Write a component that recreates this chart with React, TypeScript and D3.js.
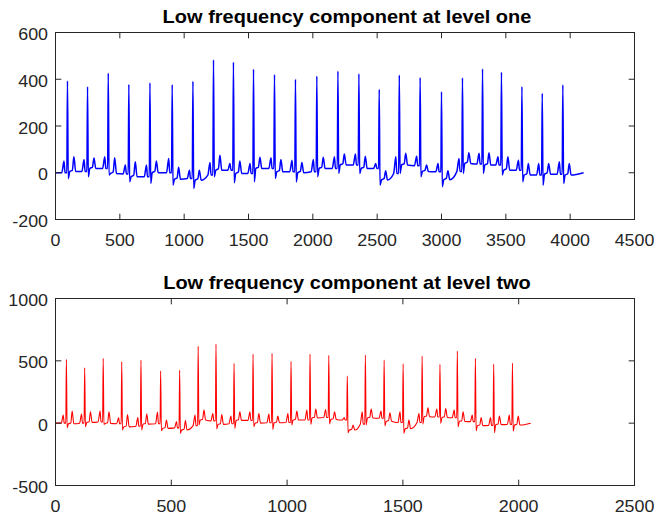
import React from 'react';
import * as d3 from 'd3';

// ---- level one (blue) : landmarks of each heartbeat ----
const rPosOne = [93, 249, 410, 570, 734, 907, 1068, 1228, 1383, 1539, 1702, 1865, 2031, 2195, 2358, 2516, 2672, 2834, 3000, 3163, 3319, 3466, 3625, 3783, 3943];
const rOne = [393, 368, 426, 378, 385, 377, 391, 483, 473, 443, 420, 400, 413, 435, 423, 357, 418, 407, 347, 406, 444, 430, 368, 340, 376];
const pOne = [50, 57, 68, 33, 33, 61, 11, 44, 40, 40, 64, 54, 57, 68, 80, 40, 68, 71, 40, 61, 83, 68, 54, 40, 47];
const sOne = [-25, -17, -10, -39, -46, -53, -67, -17, -43, -39, -24, -39, -17, -3, -3, -53, -3, -17, -60, -3, -3, -10, -39, -53, -46];
const tOne = [68, 63, 64, 47, 50, 23, 11, 75, 50, 66, 57, 44, 66, 80, 71, 9, 83, 33, 9, 86, 86, 68, 40, 40, 40];
// level of the flat stretch between beats: [start, end]
const restOne = [[0, 0], [5, 5], [18, 18], [-3, -5], [-17, -17], [0, 0], [-28, -25], [-32, -10], [11, 11], [-3, -3], [18, 18], [4, 4], [0, 4], [18, 18], [33, 33], [18, 18], [-31, -3], [33, 30], [5, 4], [-30, 5], [40, 37], [33, 33], [11, 11], [-10, -10], [-6, -6], [-10, 0]];
const lastOne = 4104;

// ---- level two (red) ----
const rPosTwo = [47, 126, 206, 286, 369, 454, 536, 616, 693, 771, 853, 935, 1017, 1099, 1180, 1260, 1338, 1419, 1501, 1583, 1660, 1735, 1813, 1892, 1973];
const rTwo = [512, 445, 520, 493, 506, 420, 426, 618, 634, 480, 554, 560, 496, 554, 544, 378, 546, 506, 476, 538, 471, 578, 520, 474, 482];
const pTwo = [65, 73, 97, 46, 46, 89, 12, 65, 78, 57, 92, 73, 78, 105, 110, 46, 92, 97, 92, 78, 113, 105, 65, 46, 65];
const sTwo = [-37, -29, -10, -55, -55, -61, -82, -15, -47, -42, -29, -50, -15, -10, -7, -77, -15, -23, -82, -7, -2, -29, -61, -77, -64];
const tTwo = [97, 92, 92, 70, 73, 25, 20, 105, 70, 92, 78, 57, 97, 113, 92, -15, 113, 84, 25, 124, 118, 92, 46, 57, 57];
const restTwo = [[0, 0], [-5, 0], [6, 10], [-2, -5], [-30, -25], [-8, -5], [-42, -38], [-55, -20], [25, 18], [-10, -5], [22, 22], [0, 3], [3, 5], [25, 25], [42, 45], [30, 25], [-55, -8], [42, 40], [15, 5], [-45, 5], [52, 50], [46, 44], [14, 12], [-20, -18], [-12, -10], [-15, 0]];
const lastTwo = 2052;

const xTicksOne = [0, 500, 1000, 1500, 2000, 2500, 3000, 3500, 4000, 4500];
const yTicksOne = [-200, 0, 200, 400, 600];
const xTicksTwo = [0, 500, 1000, 1500, 2000, 2500];
const yTicksTwo = [-500, 0, 500, 1000];

const INK = '#262626';
const SX = 1.13; // the picture is a little wider than tall

type Pt = [number, number];

// put the read landmarks in order as the vertices of the trace
function trace(rPos: number[], r: number[], p: number[], s: number[], t: number[], rest: number[][], last: number, w: number): Pt[] {
  const pts: Pt[] = [[0, rest[0][0]]];
  rPos.forEach((R, i) => {
    const pre = rest[i][1];
    const post = rest[i + 1][0];
    pts.push(
      [R - 44 * w, pre],
      [R - 27 * w, p[i]],
      [R - 19 * w, pre],
      [R - 5 * w, pre],
      [R, r[i]],
      [R + 6 * w, s[i]],
      [R + 18 * w, post],
      [R + 38 * w, post + 6],
      [R + 50 * w, t[i]],
      [R + 64 * w, post]
    );
  });
  pts.push([last, rest[rest.length - 1][1]]);
  return pts;
}

const L = 55.5, R = 634.5;

function Panel(props: { top: number; bottom: number; title: string; xMax: number; yDom: [number, number]; xTicks: number[]; yTicks: number[]; pts: Pt[]; color: string; lw: number }) {
  const { top, bottom, title, xMax, yDom, xTicks, yTicks, pts, color, lw } = props;
  const x = d3.scaleLinear().domain([0, xMax]).range([L, R]);
  const y = d3.scaleLinear().domain(yDom).range([bottom, top]);
  const line = d3.line<Pt>().x(d => x(d[0])).y(d => y(d[1])).curve(d3.curveMonotoneX);
  const tl = 5.8;
  return (
    <g>
      <path d={line(pts) || ''} fill="none" stroke={color} strokeWidth={lw} strokeLinejoin="round" />
      <rect x={L} y={top} width={R - L} height={bottom - top} fill="none" stroke={INK} strokeWidth={1} />
      {xTicks.map(v => (
        <g key={'x' + v}>
          <line x1={x(v)} x2={x(v)} y1={bottom} y2={bottom - tl} stroke={INK} />
          <line x1={x(v)} x2={x(v)} y1={top} y2={top + tl} stroke={INK} />
          <text transform={`translate(${x(v)},${bottom + 26.4}) scale(${SX},1)`} textAnchor="middle" fontSize={15.8} fill={INK}>{v}</text>
        </g>
      ))}
      {yTicks.map(v => (
        <g key={'y' + v}>
          <line x1={L} x2={L + tl} y1={y(v)} y2={y(v)} stroke={INK} />
          <line x1={R} x2={R - tl} y1={y(v)} y2={y(v)} stroke={INK} />
          <text transform={`translate(48,${y(v) + 7.6}) scale(${SX},1)`} textAnchor="end" fontSize={15.8} fill={INK}>{v}</text>
        </g>
      ))}
      <text transform={`translate(347,${top - 9.2}) scale(${SX},1)`} textAnchor="middle" fontSize={17.7} fontWeight="bold" fill="#000">{title}</text>
    </g>
  );
}

export default function App() {
  const ptsOne = trace(rPosOne, rOne, pOne, sOne, tOne, restOne, lastOne, 1);
  const ptsTwo = trace(rPosTwo, rTwo, pTwo, sTwo, tTwo, restTwo, lastTwo, 0.5);
  return (
    <svg width={654} height={516} style={{ position: 'absolute', left: 0, top: 0, background: '#fff' }} fontFamily="'Liberation Sans', Arial, sans-serif">
      <rect width={654} height={516} fill="#fff" />
      <Panel top={32.5} bottom={219.5} title="Low frequency component at level one" xMax={4500} yDom={[-200, 600]}
        xTicks={xTicksOne} yTicks={yTicksOne} pts={ptsOne} color="#0000ff" lw={1.5} />
      <Panel top={298.5} bottom={485.5} title="Low frequency component at level two" xMax={2500} yDom={[-500, 1000]}
        xTicks={xTicksTwo} yTicks={yTicksTwo} pts={ptsTwo} color="#ff0000" lw={1.1} />
    </svg>
  );
}
